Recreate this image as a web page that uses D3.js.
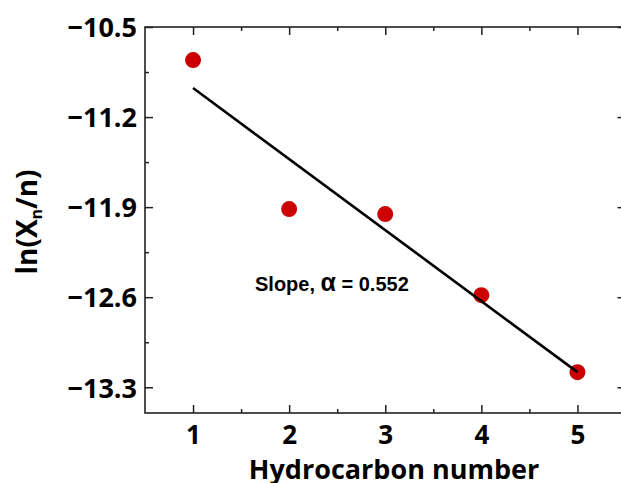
<!DOCTYPE html>
<html>
<head>
<meta charset="utf-8">
<script src="https://cdn.jsdelivr.net/npm/d3@7"></script>
<style>
  html, body { margin: 0; padding: 0; background: #fff; }
  svg { display: block; }
  .tick text { font-family: "Open Sans", sans-serif; font-weight: 700; fill: #000; }
</style>
</head>
<body>
<svg id="chart" width="621" height="483"></svg>
<script>
// Hydrocarbon number n and ln(Xn/n)
const hydrocarbonNumber = [1, 2, 3, 4, 5];
const lnXnOverN = [-10.757, -11.915, -11.954, -12.584, -13.183];
const slopeAlpha = 0.552;          // reported slope (magnitude)
const xTicks = [1, 2, 3, 4, 5];
const yTicks = [-10.5, -11.2, -11.9, -12.6, -13.3];

const svg = d3.select("#chart");

const x = d3.scaleLinear().domain([0.5, 5.5]).range([145, 625.5]);
const y = d3.scaleLinear().domain([-13.5, -10.5]).range([413, 27]);

const axisColor = "#222";

// frame
svg.append("rect")
  .attr("x", x(0.5)).attr("y", y(-10.5))
  .attr("width", x(5.5) - x(0.5)).attr("height", y(-13.5) - y(-10.5))
  .attr("fill", "none").attr("stroke", axisColor).attr("stroke-width", 1.6);

const fmt = d => d3.format(".1f")(d).replace("-", "\u2212");
const xMinor = d3.range(1.5, 5.5, 1);
const yMinor = [-10.85, -11.55, -12.25, -12.95];

function styleAxis(g) {
  g.select(".domain").remove();
  g.selectAll(".tick line").attr("stroke", axisColor).attr("stroke-width", 1.5);
}

// bottom axis (major, labelled)
svg.append("g").attr("transform", `translate(0,${y(-13.5)})`)
  .call(d3.axisBottom(x).tickValues(xTicks).tickFormat(d3.format("d")).tickSize(-8).tickPadding(11))
  .call(styleAxis)
  .call(g => g.selectAll("text").attr("font-size", 26).attr("dy", "0.76em"));
svg.append("g").attr("transform", `translate(0,${y(-13.5)})`)
  .call(d3.axisBottom(x).tickValues(xMinor).tickFormat("").tickSize(-4))
  .call(styleAxis);

// top axis (ticks only)
svg.append("g").attr("transform", `translate(0,${y(-10.5)})`)
  .call(d3.axisTop(x).tickValues(xTicks).tickFormat("").tickSize(-8))
  .call(styleAxis);
svg.append("g").attr("transform", `translate(0,${y(-10.5)})`)
  .call(d3.axisTop(x).tickValues(xMinor).tickFormat("").tickSize(-4))
  .call(styleAxis);

// left axis (major, labelled)
svg.append("g").attr("transform", `translate(${x(0.5)},0)`)
  .call(d3.axisLeft(y).tickValues(yTicks).tickFormat(fmt).tickSize(-8).tickPadding(8))
  .call(styleAxis)
  .call(g => g.selectAll("text").attr("font-size", 27).attr("dy", "0.36em"));
svg.append("g").attr("transform", `translate(${x(0.5)},0)`)
  .call(d3.axisLeft(y).tickValues(yMinor).tickFormat("").tickSize(-4))
  .call(styleAxis);

// right axis (ticks only)
svg.append("g").attr("transform", `translate(${x(5.5)},0)`)
  .call(d3.axisRight(y).tickValues(yTicks).tickFormat("").tickSize(-8))
  .call(styleAxis);
svg.append("g").attr("transform", `translate(${x(5.5)},0)`)
  .call(d3.axisRight(y).tickValues(yMinor).tickFormat("").tickSize(-4))
  .call(styleAxis);

// linear fit with the reported slope through the data centroid
const xMean = d3.mean(hydrocarbonNumber);
const yMean = d3.mean(lnXnOverN);
const fit = n => yMean - slopeAlpha * (n - xMean);
const x0 = hydrocarbonNumber[0], x1 = hydrocarbonNumber[hydrocarbonNumber.length - 1];

// points
const pts = hydrocarbonNumber.map((n, i) => ({ n, v: lnXnOverN[i] }));
svg.append("g").selectAll("circle").data(pts).join("circle")
  .attr("cx", d => x(d.n)).attr("cy", d => y(d.v)).attr("r", 8)
  .attr("fill", "#cc0000");

svg.append("line")
  .attr("x1", x(x0)).attr("y1", y(fit(x0)))
  .attr("x2", x(x1)).attr("y2", y(fit(x1)))
  .attr("stroke", "#000").attr("stroke-width", 2.6);

// annotation
const ann = svg.append("text")
  .attr("x", 255).attr("y", 291)
  .attr("font-family", "Liberation Sans, Arial, sans-serif")
  .attr("font-weight", 700).attr("font-size", 20);
ann.append("tspan").text("Slope, ");
ann.append("tspan").attr("font-size", 25).text("\u03B1");
ann.append("tspan").text(` = ${slopeAlpha}`);

// axis titles
svg.append("text")
  .attr("x", 394).attr("y", 479)
  .attr("text-anchor", "middle")
  .attr("font-family", "Open Sans, sans-serif").attr("font-weight", 700).attr("font-size", 27)
  .text("Hydrocarbon number");

const yl = svg.append("text")
  .attr("transform", "translate(37,222) rotate(-90)")
  .attr("text-anchor", "middle")
  .attr("font-family", "Open Sans, sans-serif").attr("font-weight", 700).attr("font-size", 28);
yl.append("tspan").text("ln(X");
yl.append("tspan").attr("font-size", 16).attr("dy", 5).text("n");
yl.append("tspan").attr("dy", -5).text("/n)");
</script>
</body>
</html>
